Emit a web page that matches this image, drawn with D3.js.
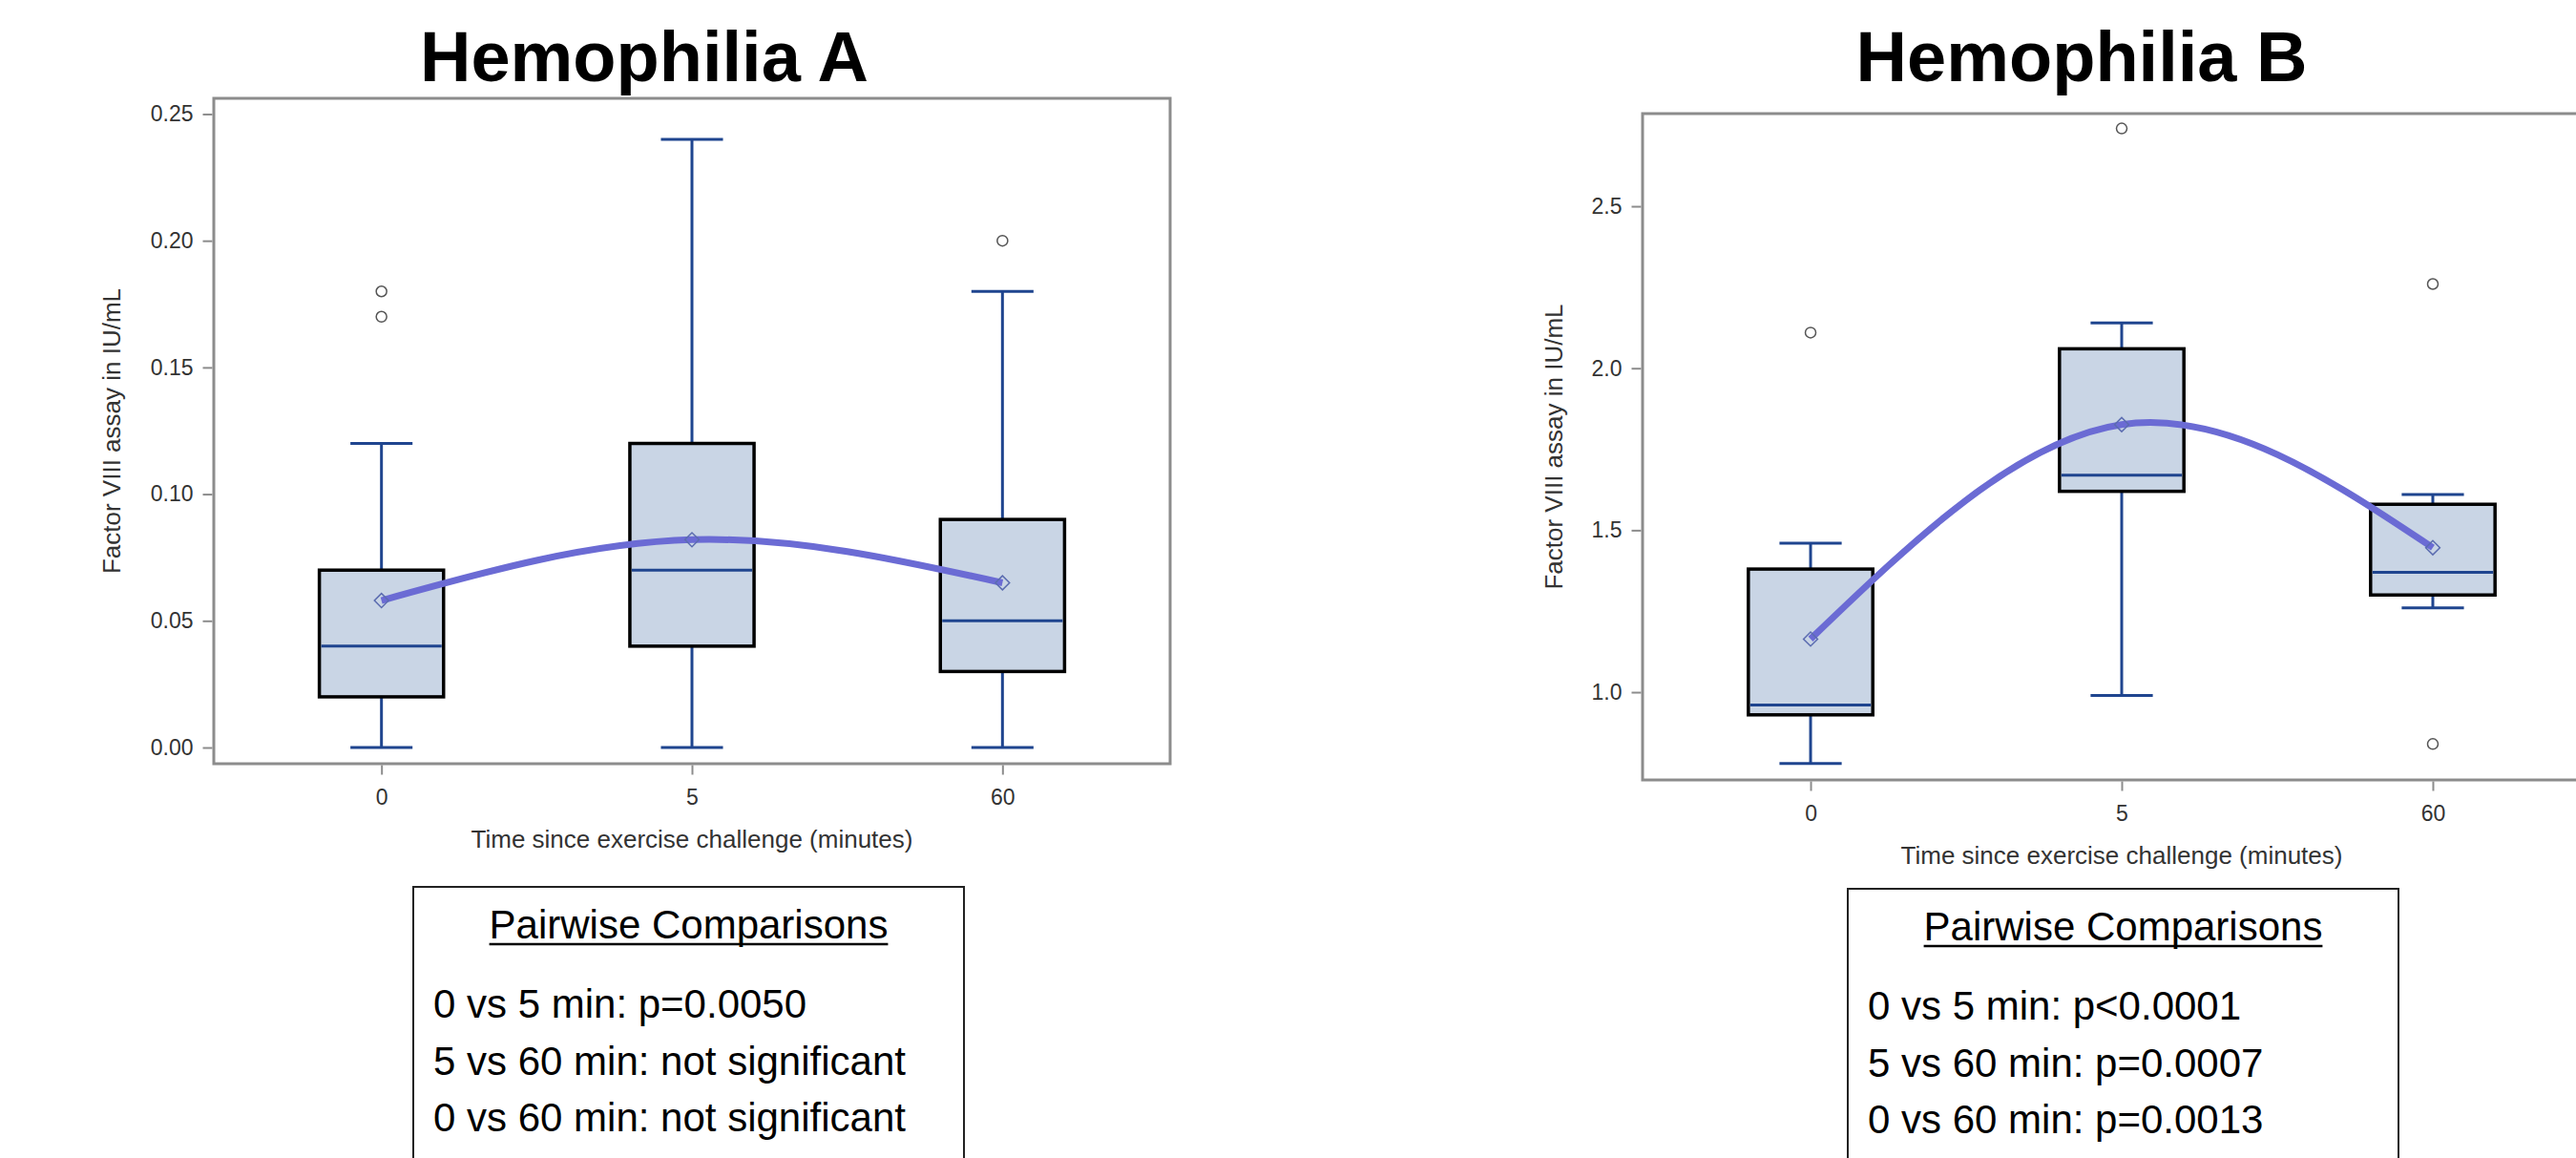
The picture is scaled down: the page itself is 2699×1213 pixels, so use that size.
<!DOCTYPE html>
<html lang="en">
<head>
<meta charset="UTF-8">
<title>Factor assay after exercise challenge</title>
<script src="https://cdn.jsdelivr.net/npm/d3@7/dist/d3.min.js"></script>
<style type="text/css">
    html, body {
        margin: 0;
        padding: 0;
        background: #fff;
    }
    svg text {
        font-family: "Liberation Sans", Arial, sans-serif;
    }
    .title {
        font-size: 74px;
        font-weight: bold;
        fill: #000;
    }
    .axis text {
        font-size: 23px;
        fill: #333;
    }
    .axis line {
        stroke: #8c8c8c;
        stroke-width: 2;
    }
    .axis path.domain {
        stroke: none;
    }
    .axislabel {
        font-size: 26px;
        fill: #333;
    }
    .pw text {
        font-size: 42px;
        fill: #000;
    }
</style>
</head>
<body>
<svg id="chart" width="2699" height="1213"></svg>
<script>
    // categories (minutes since exercise challenge)
    var timepoints = ["0", "5", "60"];

    // Hemophilia A, factor VIII in IU/mL
    var aLow = [0.00, 0.00, 0.00];
    var aQ1 = [0.02, 0.04, 0.03];
    var aMedian = [0.04, 0.07, 0.05];
    var aQ3 = [0.07, 0.12, 0.09];
    var aHigh = [0.12, 0.24, 0.18];
    var aMean = [0.058, 0.082, 0.065];
    var aOutliers = [[0.17, 0.18], [], [0.20]];
    var aTicks = [0.00, 0.05, 0.10, 0.15, 0.20, 0.25];
    var aPairs = ["0 vs 5 min: p=0.0050", "5 vs 60 min: not significant", "0 vs 60 min: not significant"];

    // Hemophilia B
    var bLow = [0.78, 0.99, 1.26];
    var bQ1 = [0.93, 1.62, 1.30];
    var bMedian = [0.96, 1.67, 1.37];
    var bQ3 = [1.38, 2.06, 1.58];
    var bHigh = [1.46, 2.14, 1.61];
    var bMean = [1.164, 1.826, 1.446];
    var bOutliers = [[2.11], [2.74], [2.26, 0.84]];
    var bTicks = [1.0, 1.5, 2.0, 2.5];
    var bPairs = ["0 vs 5 min: p<0.0001", "5 vs 60 min: p=0.0007", "0 vs 60 min: p=0.0013"];

    var xLabel = "Time since exercise challenge (minutes)";
    var yLabel = "Factor VIII assay in IU/mL";

    var svg = d3.select("#chart");

    function drawPanel(p) {
        var g = svg.append("g");

        var x = d3.scalePoint().domain(timepoints).range([p.left, p.right]).padding(0.54);
        var y = d3.scaleLinear().domain(p.yDomain).range([p.bottom, p.top]);
        var boxW = x.step() * 0.4,
            capW = x.step() * 0.2;

        var rows = timepoints.map(function(t, i) {
            return {
                t: t,
                low: p.low[i], q1: p.q1[i], med: p.median[i], q3: p.q3[i], high: p.high[i],
                mean: p.mean[i], out: p.outliers[i]
            };
        });

        g.append("text")
            .attr("class", "title")
            .attr("x", p.titleX)
            .attr("y", 85)
            .attr("text-anchor", "middle")
            .text(p.title);

        // plot frame
        g.append("rect")
            .attr("x", p.left)
            .attr("y", p.top)
            .attr("width", p.right - p.left)
            .attr("height", p.bottom - p.top)
            .attr("fill", "#fff")
            .attr("stroke", "#8c8c8c")
            .attr("stroke-width", 3);

        var box = g.selectAll(".box")
            .data(rows)
            .enter().append("g")
            .attr("class", "box");

        // whiskers
        box.append("line")
            .attr("x1", d => x(d.t)).attr("x2", d => x(d.t))
            .attr("y1", d => y(d.high)).attr("y2", d => y(d.q3));
        box.append("line")
            .attr("x1", d => x(d.t)).attr("x2", d => x(d.t))
            .attr("y1", d => y(d.q1)).attr("y2", d => y(d.low));
        box.append("line")
            .attr("x1", d => x(d.t) - capW / 2).attr("x2", d => x(d.t) + capW / 2)
            .attr("y1", d => y(d.high)).attr("y2", d => y(d.high));
        box.append("line")
            .attr("x1", d => x(d.t) - capW / 2).attr("x2", d => x(d.t) + capW / 2)
            .attr("y1", d => y(d.low)).attr("y2", d => y(d.low));
        box.selectAll("line")
            .attr("stroke", "#1f458f")
            .attr("stroke-width", 3);

        box.append("rect")
            .attr("x", d => x(d.t) - boxW / 2)
            .attr("y", d => y(d.q3))
            .attr("width", boxW)
            .attr("height", d => y(d.q1) - y(d.q3))
            .attr("fill", "#c9d5e5")
            .attr("stroke", "#000")
            .attr("stroke-width", 3.5);

        box.append("line")
            .attr("x1", d => x(d.t) - boxW / 2 + 2).attr("x2", d => x(d.t) + boxW / 2 - 2)
            .attr("y1", d => y(d.med)).attr("y2", d => y(d.med))
            .attr("stroke", "#1f458f")
            .attr("stroke-width", 3);

        box.selectAll("circle")
            .data(d => d.out.map(v => ({t: d.t, v: v})))
            .enter().append("circle")
            .attr("cx", d => x(d.t))
            .attr("cy", d => y(d.v))
            .attr("r", 5.5)
            .attr("fill", "#fff")
            .attr("stroke", "#555")
            .attr("stroke-width", 1.5);

        // smoothed line through the means
        var meanLine = d3.line()
            .curve(d3.curveNatural)
            .x(d => x(d.t))
            .y(d => y(d.mean));

        g.append("path")
            .datum(rows)
            .attr("d", meanLine)
            .attr("fill", "none")
            .attr("stroke", "#6b6bd4")
            .attr("stroke-width", 7);

        g.selectAll(".mean")
            .data(rows)
            .enter().append("path")
            .attr("class", "mean")
            .attr("d", d3.symbol().type(d3.symbolSquare).size(110))
            .attr("transform", d => "translate(" + x(d.t) + "," + y(d.mean) + ") rotate(45)")
            .attr("fill", "none")
            .attr("stroke", "#5b6cb0")
            .attr("stroke-width", 1.5);

        // axes
        g.append("g")
            .attr("class", "axis")
            .attr("transform", "translate(0," + (p.bottom + 1.5) + ")")
            .call(d3.axisBottom(x).tickSize(10).tickPadding(15));

        g.append("g")
            .attr("class", "axis")
            .attr("transform", "translate(" + (p.left - 1.5) + ",0)")
            .call(d3.axisLeft(y).tickValues(p.ticks).tickFormat(d3.format(p.fmt)).tickSize(10).tickPadding(10));

        g.append("text")
            .attr("class", "axislabel")
            .attr("x", (p.left + p.right) / 2)
            .attr("y", p.bottom + 88)
            .attr("text-anchor", "middle")
            .text(xLabel);

        g.append("text")
            .attr("class", "axislabel")
            .attr("transform", "translate(" + p.yLabelX + "," + (p.top + p.bottom) / 2 + ") rotate(-90)")
            .attr("dy", "0.35em")
            .attr("text-anchor", "middle")
            .text(yLabel);

        // pairwise comparisons box
        var pw = g.append("g").attr("class", "pw");
        pw.append("rect")
            .attr("x", p.boxLeft)
            .attr("y", p.boxTop)
            .attr("width", 577)
            .attr("height", 340)
            .attr("fill", "none")
            .attr("stroke", "#222")
            .attr("stroke-width", 2);

        var head = pw.append("text")
            .attr("x", p.boxLeft + 577 / 2)
            .attr("y", p.boxTop + 54)
            .attr("text-anchor", "middle")
            .text("Pairwise Comparisons");
        var hw = head.node().getComputedTextLength();
        pw.append("line")
            .attr("x1", p.boxLeft + 577 / 2 - hw / 2)
            .attr("x2", p.boxLeft + 577 / 2 + hw / 2)
            .attr("y1", p.boxTop + 60)
            .attr("y2", p.boxTop + 60)
            .attr("stroke", "#000")
            .attr("stroke-width", 2.5);

        pw.selectAll(".pair")
            .data(p.pairs)
            .enter().append("text")
            .attr("class", "pair")
            .attr("x", p.boxLeft + 21)
            .attr("y", (d, i) => p.boxTop + 137 + i * 59.5)
            .text(d => d);
    }

    drawPanel({
        title: "Hemophilia A", titleX: 675,
        left: 224, right: 1226, top: 103, bottom: 800,
        yDomain: [-0.0064, 0.2562], ticks: aTicks, fmt: ".2f",
        low: aLow, q1: aQ1, median: aMedian, q3: aQ3, high: aHigh, mean: aMean, outliers: aOutliers,
        yLabelX: 117, boxLeft: 433, boxTop: 929, pairs: aPairs
    });

    drawPanel({
        title: "Hemophilia B", titleX: 2181,
        left: 1721, right: 2725, top: 119, bottom: 817,
        yDomain: [0.729, 2.786], ticks: bTicks, fmt: ".1f",
        low: bLow, q1: bQ1, median: bMedian, q3: bQ3, high: bHigh, mean: bMean, outliers: bOutliers,
        yLabelX: 1628, boxLeft: 1936, boxTop: 931, pairs: bPairs
    });
</script>
</body>
</html>
